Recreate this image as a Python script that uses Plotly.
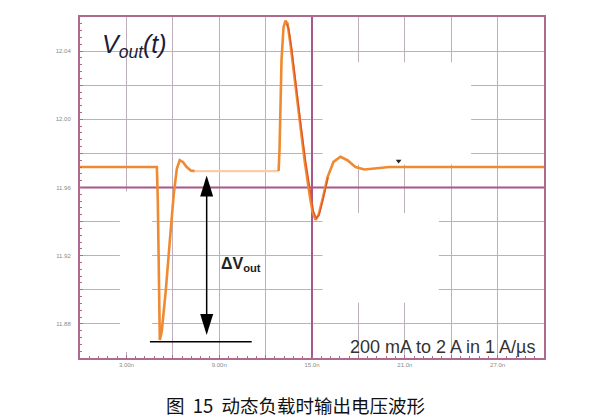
import plotly.graph_objects as go

# ---- data (time in ns, voltage in V) ----
t_drop = [0.0, 4.97, 5.03, 5.10, 5.16, 5.29, 5.55, 5.81, 6.06, 6.26, 6.45, 6.65, 6.90, 7.16, 7.42]
v_drop = [11.972, 11.972, 11.953, 11.894, 11.8706, 11.876, 11.900, 11.929, 11.956, 11.971, 11.976, 11.975, 11.972, 11.970, 11.9696]

t_flat = [7.42, 12.84]
v_flat = [11.9696, 11.9696]

t_rise = [12.84, 12.90, 13.03, 13.16, 13.29, 13.42, 13.61, 13.87, 14.19, 14.52, 14.84, 15.03, 15.23,
          15.42, 15.68, 16.00, 16.39, 16.84, 17.29, 17.81, 18.39, 19.03, 20.0, 21.94, 30.0]
v_rise = [11.9697, 11.982, 12.035, 12.054, 12.0578, 12.056, 12.044, 12.0235, 12.000, 11.976, 11.956, 11.946, 11.941,
          11.9437, 11.953, 11.966, 11.975, 11.978, 11.976, 11.972, 11.9706, 11.971, 11.972, 11.972, 11.972]

t_red = [13.35, 13.50, 13.70, 13.95, 14.27, 14.60, 14.92, 15.10, 15.28, 15.47, 15.72, 16.05]
v_red = [12.056, 12.053, 12.041, 12.021, 11.998, 11.975, 11.955, 11.946, 11.942, 11.944, 11.953, 11.966]

t_end = [30.1]
v_end = [11.972]

x_ticks = [0, 3, 6, 9, 12, 15, 18, 21, 24, 27, 30]
x_labels = ["", "3.00n", "", "9.00n", "", "15.0n", "", "21.0n", "", "27.0n", ""]
y_ticks = [11.88, 11.90, 11.92, 11.94, 11.96, 11.98, 12.00, 12.02, 12.04, 12.06]
y_labels = ["11.88", "", "11.92", "", "11.96", "", "12.00", "", "12.04", ""]

# markers of the drawing
t_range = [0, 30]
v_range = [11.86, 12.06]
t_cursor = 15.0
v_cursor = 11.96
t_arrow = 8.19
v_arrow_top = 11.967
v_arrow_bot = 11.8735
v_min_line = 11.8696
t_min_line = [4.52, 11.1]

ORANGE = "#F08A32"
FADED = "#F7CDAE"
RED = "#E2552A"
PURPLE = "#A8578A"
BORDER = "#AE6A8E"
GRID = "#BDB0BA"

fig = go.Figure()
# cursor lines (drawn first so the waveform lies on top)
fig.add_trace(go.Scatter(x=t_range, y=[v_cursor, v_cursor], mode="lines", line=dict(color=PURPLE, width=2),
                         hoverinfo="skip"))
fig.add_trace(go.Scatter(x=[t_cursor, t_cursor], y=v_range, mode="lines", line=dict(color=PURPLE, width=2),
                         hoverinfo="skip"))
fig.add_trace(go.Scatter(x=[2.13, 4.2], y=[v_cursor, v_cursor], mode="lines", line=dict(color="#777", width=1),
                         hoverinfo="skip"))
fig.add_trace(go.Scatter(x=t_drop, y=v_drop, mode="lines", line=dict(color=ORANGE, width=2.6), hoverinfo="skip"))
fig.add_trace(go.Scatter(x=t_flat, y=v_flat, mode="lines", line=dict(color=FADED, width=2.2), hoverinfo="skip"))
fig.add_trace(go.Scatter(x=t_rise, y=v_rise, mode="lines", line=dict(color=ORANGE, width=2.6), hoverinfo="skip"))
fig.add_trace(go.Scatter(x=t_red, y=v_red, mode="lines", line=dict(color=RED, width=1.3), hoverinfo="skip"))
fig.add_trace(go.Scatter(x=t_end, y=v_end, mode="markers", marker=dict(color=ORANGE, size=8),
                         cliponaxis=False, hoverinfo="skip"))
fig.add_trace(go.Scatter(x=[20.6], y=[11.9755], mode="markers",
                         marker=dict(color="#222", size=5, symbol="triangle-down"), hoverinfo="skip"))

shapes = []
# white patches (erased areas of the original)
patches = [
    (2.58, 4.65, 11.8635, 11.9576),
    (15.68, 25.29, 11.9735, 12.0335),
    (15.68, 23.2, 11.8924, 11.945),
]
for x0, x1, y0, y1 in patches:
    shapes.append(dict(type="rect", xref="x", yref="y", x0=x0, x1=x1, y0=y0, y1=y1,
                       fillcolor="white", line=dict(width=0), layer="between"))
# delta V arrow
shapes.append(dict(type="line", xref="x", yref="y", x0=t_arrow, x1=t_arrow, y0=v_arrow_bot + 0.004,
                   y1=v_arrow_top - 0.004, line=dict(color="black", width=1.5)))
shapes.append(dict(type="path", xref="x", yref="y", xsizemode="pixel", ysizemode="pixel",
                   xanchor=t_arrow, yanchor=v_arrow_top, path="M0,0 L-6.5,-21 L6.5,-21 Z",
                   fillcolor="black", line=dict(width=0)))
shapes.append(dict(type="path", xref="x", yref="y", xsizemode="pixel", ysizemode="pixel",
                   xanchor=t_arrow, yanchor=v_arrow_bot, path="M0,0 L-6.5,21 L6.5,21 Z",
                   fillcolor="black", line=dict(width=0)))
shapes.append(dict(type="line", xref="x", yref="y", x0=t_min_line[0], x1=t_min_line[1], y0=v_min_line,
                   y1=v_min_line, line=dict(color="black", width=1.5)))

annotations = [
    dict(x=1.29, y=12.043, xref="x", yref="y", xanchor="left", yanchor="middle", showarrow=False,
         text="<i>V<sub>out</sub>(t)</i>", font=dict(family="Liberation Sans, Arial", size=25, color="#1c1c38")),
    dict(x=9.0, y=11.9147, xref="x", yref="y", xanchor="left", yanchor="middle", showarrow=False,
         text="<b>ΔV<sub>out</sub></b>", font=dict(family="Liberation Sans, Arial", size=16, color="#222")),
    dict(x=29.6, y=11.8665, xref="x", yref="y", xanchor="right", yanchor="middle", showarrow=False,
         text="200 mA to 2 A in 1 A/µs", font=dict(family="Liberation Sans, Arial", size=18, color="#333")),
    dict(x=0.4634, y=-0.138, xref="paper", yref="paper", xanchor="center", yanchor="middle", showarrow=False,
         text="图&nbsp;&nbsp;15&nbsp;&nbsp;动态负载时输出电压波形",
         font=dict(family="Noto Sans CJK SC", size=18.5, color="#111")),
]

fig.update_layout(
    width=589, height=418,
    margin=dict(l=80, r=45, t=17, b=60),
    paper_bgcolor="white", plot_bgcolor="white",
    showlegend=False,
    shapes=shapes, annotations=annotations,
    xaxis=dict(range=t_range, tickvals=x_ticks, ticktext=x_labels, showgrid=True, gridcolor=GRID,
               gridwidth=1.3, zeroline=False, showline=True, linecolor=BORDER, linewidth=2, mirror=True,
               ticks="inside", ticklen=3, tickcolor=BORDER,
               minor=dict(dtick=0.6, tick0=0, ticks="inside", ticklen=2, tickcolor=BORDER, showgrid=False),
               tickfont=dict(size=6, color="#8a8a8a", family="Liberation Sans, Arial")),
    yaxis=dict(range=v_range, tickvals=y_ticks, ticktext=y_labels, showgrid=True, gridcolor=GRID,
               gridwidth=1.3, zeroline=False, showline=True, linecolor=BORDER, linewidth=2, mirror=True,
               ticks="inside", ticklen=3, tickcolor=BORDER,
               minor=dict(dtick=0.004, tick0=11.86, ticks="inside", ticklen=2, tickcolor=BORDER, showgrid=False),
               tickfont=dict(size=6, color="#8a8a8a", family="Liberation Sans, Arial"), ticklabelstandoff=6),
)

fig.write_html("out.html", config={"displayModeBar": False},
               post_script="document.body.style.margin='0';document.body.style.padding='0';")
